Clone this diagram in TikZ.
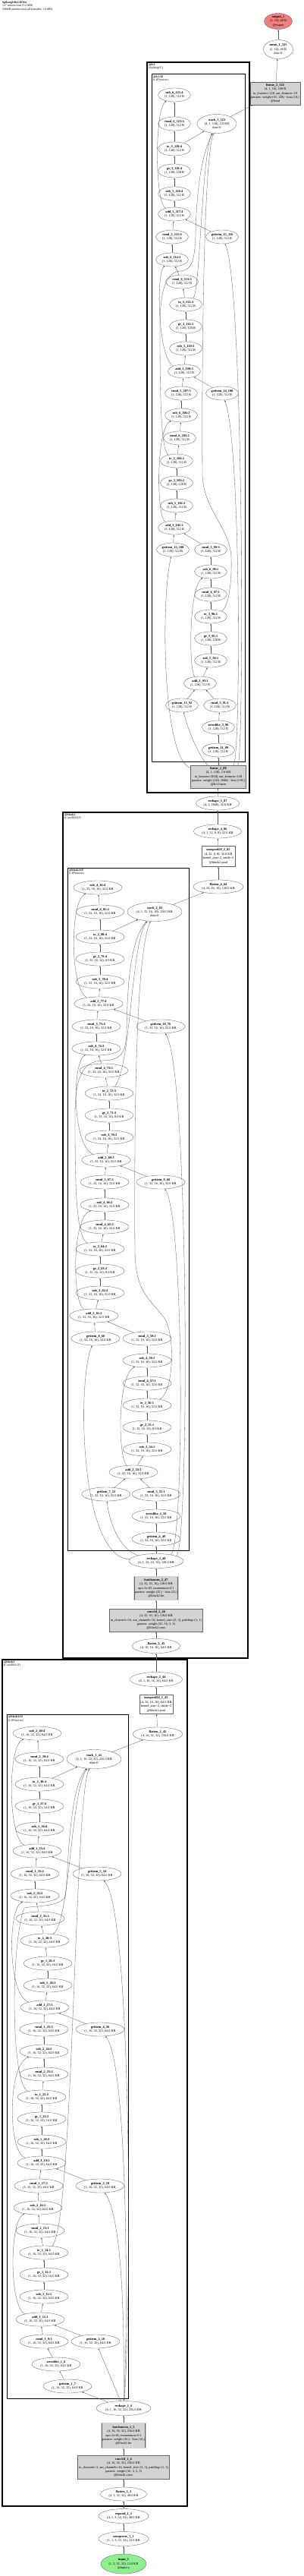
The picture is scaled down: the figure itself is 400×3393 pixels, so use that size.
\documentclass[tikz,border=0pt]{standalone}
\usepackage{fontspec}
\setmainfont{Liberation Serif}
\usetikzlibrary{shapes.geometric,arrows.meta}
\definecolor{boxgray}{RGB}{211,211,211}
\definecolor{ingreen}{RGB}{144,238,144}
\definecolor{outred}{RGB}{240,128,128}
\definecolor{edgecol}{RGB}{85,85,85}
\newcommand{\nodefont}{\fontsize{4.3}{5.4}\selectfont}
\newcommand{\ttlfont}{\fontsize{3.8}{4.6}\selectfont}
\newcommand{\nm}[1]{\textbf{\detokenize{#1}}}
\newcommand{\lif}[5]{\node[#1] (#2) at (#3) {\nm{#4}\\#5};}
\newcommand{\shFc}{(1, 128), 512 B}
\newcommand{\shFcB}{(1, 128), 128 B}
\newcommand{\shBb}{(1, 32, 16, 16), 32.0 KB}
\newcommand{\shBbB}{(1, 32, 16, 16), 8.0 KB}
\newcommand{\shBa}{(1, 16, 32, 32), 64.0 KB}
\newcommand{\shBaB}{(1, 16, 32, 32), 16.0 KB}
\tikzset{
  opn/.style={ellipse, draw=black!60, line width=0.35pt, fill=white, inner xsep=-8pt, inner ysep=0pt,
    minimum width=64pt, minimum height=18pt, align=center, font=\nodefont},
  opsm/.style={opn, minimum width=43pt},
  opwd/.style={opn, minimum width=72pt, minimum height=25pt},
  tbox/.style={rectangle, draw=black!60, line width=0.35pt, fill=boxgray, inner xsep=1.5pt, inner ysep=1pt, align=center, font=\nodefont},
  pbox/.style={tbox, fill=white},
  bnbox/.style={tbox, double=boxgray, double distance=1.2pt},
  cluo/.style={draw=black, line width=1.2pt},
  clui/.style={draw=black, line width=1pt},
  clab/.style={anchor=north west, align=left, inner sep=0pt, font=\ttlfont},
  edg/.style={draw=edgecol, line width=0.3pt, -{Latex[length=2.2pt,width=1.7pt]}},
}
\begin{document}
\begin{tikzpicture}[x=1pt,y=-1pt]
\useasboundingbox (0,0) rectangle (400,3393);
\fill[white] (0,0) rectangle (400,3393);
% title
\node[anchor=north west, align=left, inner sep=0pt, font=\ttlfont] (title) at (3,1.5)
  {\textbf{SpikingJellyLIFNet}\\127 tensors total (5.2 MB)\\268698 params total (all trainable, 1.0 MB)};
% clusters
\draw[cluo] (194,82) rectangle (329,1044);
\draw[clui] (200,98) rectangle (323,1003);
\draw[cluo] (83,1070) rectangle (327,2184);
\draw[clui] (89,1143) rectangle (249,2042);
\draw[cluo] (3,2186) rectangle (247,3301);
\draw[clui] (9,2258) rectangle (169,3159);
\node[clab] (lfc1) at (196,83.5) {\textbf{@fc1}\\(SpikingFC)};
\node[clab] (lfc1lif) at (202,99.5) {\textbf{@fc1.lif}\\(LIFNeuron)};
\node[clab] (lb2) at (85,1071.5) {\textbf{@block2}\\(ConvBNLIF)};
\node[clab] (lb2lif) at (91,1144.5) {\textbf{@block2.lif}\\(LIFNeuron)};
\node[clab] (lb1) at (5,2187.5) {\textbf{@block1}\\(ConvBNLIF)};
\node[clab] (lb1lif) at (11,2259.5) {\textbf{@block1.lif}\\(LIFNeuron)};
% top
\node[opn, fill=outred, minimum width=37pt, minimum height=21pt] (out1) at (367,28) {\nm{output_1}\\(1, 10), 40 B\\@output};
\node[opn, minimum width=39pt, minimum height=25pt] (n125) at (367,65) {\nm{mean_1_125}\\(1, 10), 40 B\\dim=0};
\node[tbox, minimum height=30pt] (n124) at (363,123) {\nm{linear_2_124}\\(4, 1, 10), 160 B\\in\_features=128, out\_features=10\\params: weight (10, 128) · bias (10,)\\@head};
% fc1
\node[opwd, minimum width=52pt] (n123) at (286,163) {\nm{stack_3_123}\\(4, 1, 128), 2.0 KB\\dim=0};
\lif{opsm}{n122}{230,125}{sub_6_122:4}{\shFc}
\lif{opsm}{n121}{230,163}{rmul_6_121:4}{\shFc}
\lif{opsm}{n120}{230,196}{to_3_120:4}{\shFc}
\lif{opsm}{n119}{230,225}{ge_3_119:4}{\shFcB}
\lif{opsm}{n118}{230,255}{sub_5_118:4}{\shFc}
\lif{opsm}{n117}{230,282}{add_3_117:4}{\shFc}
\lif{opsm}{n115}{227,312}{rmul_5_115:4}{\shFc}
\lif{opsm}{n116}{293,312}{getitem_15_116}{\shFc}
\lif{opsm}{n114}{227,342}{sub_6_114:3}{\shFc}
\lif{opsm}{n113}{240,371}{rmul_6_113:3}{\shFc}
\lif{opsm}{n112}{245,401}{to_3_112:3}{\shFc}
\lif{opsm}{n111}{245,430}{ge_3_111:3}{\shFcB}
\lif{opsm}{n110}{245,459}{sub_5_110:3}{\shFc}
\lif{opsm}{n109}{243,489}{add_3_109:3}{\shFc}
\lif{opsm}{n107}{239,518}{rmul_5_107:3}{\shFc}
\lif{opsm}{n108}{293,518}{getitem_14_108}{\shFc}
\lif{opsm}{n106}{239,547}{sub_6_106:2}{\shFc}
\lif{opsm}{n105}{237,577}{rmul_6_105:2}{\shFc}
\lif{opsm}{n104}{233,607}{to_3_104:2}{\shFc}
\lif{opsm}{n103}{233,636}{ge_3_103:2}{\shFcB}
\lif{opsm}{n102}{233,666}{sub_5_102:2}{\shFc}
\lif{opsm}{n101}{230,695}{add_3_101:2}{\shFc}
\lif{opsm}{n99}{278,724}{rmul_5_99:2}{\shFc}
\lif{opsm}{n100}{228,724}{getitem_13_100}{\shFc}
\lif{opsm}{n98}{278,753}{sub_6_98:1}{\shFc}
\lif{opsm}{n97}{278,783}{rmul_6_97:1}{\shFc}
\lif{opsm}{n96}{278,812}{to_3_96:1}{\shFc}
\lif{opsm}{n95}{278,841}{ge_3_95:1}{\shFcB}
\lif{opsm}{n94}{278,870}{sub_5_94:1}{\shFc}
\lif{opsm}{n93}{264,900}{add_3_93:1}{\shFc}
\lif{opsm}{n91}{290,929}{rmul_5_91:1}{\shFc}
\lif{opsm}{n92}{240,929}{getitem_12_92}{\shFc}
\lif{opsm}{n90}{288,958}{zeroslike_3_90}{\shFc}
\lif{opsm}{n89}{288,988}{getitem_11_89}{\shFc}
\node[tbox, minimum height=30pt] (n88) at (288,1023) {\nm{linear_1_88}\\(4, 1, 128), 2.0 KB\\in\_features=2048, out\_features=128\\params: weight (128, 2048) · bias (128,)\\@fc1.linear};
\node[opn, minimum width=57pt] (n87) at (287,1058) {\nm{reshape_5_87}\\(4, 1, 2048), 32.0 KB};
% block2
\node[opn, minimum width=63pt] (n86) at (287,1095) {\nm{reshape_4_86}\\(4, 1, 32, 8, 8), 32.0 KB};
\node[pbox, minimum height=27pt] (n85) at (288,1128) {\nm{maxpool2d_2_85}\\(4, 32, 8, 8), 32.0 KB\\kernel\_size=2, stride=2\\@block2.pool};
\node[opn, minimum width=66pt] (n84) at (288,1168) {\nm{flatten_4_84}\\(4, 32, 16, 16), 128.0 KB};
\node[opwd] (n83) at (204,1201) {\nm{stack_2_83}\\(4, 1, 32, 16, 16), 128.0 KB\\dim=0};
\lif{opn}{n82}{129,1169}{sub_4_82:4}{\shBb}
\lif{opn}{n81}{132,1201}{rmul_4_81:4}{\shBb}
\lif{opn}{n80}{132,1234}{to_2_80:4}{\shBb}
\lif{opn}{n79}{132,1263}{ge_2_79:4}{\shBbB}
\lif{opn}{n78}{132,1293}{sub_3_78:4}{\shBb}
\lif{opn}{n77}{130,1322}{add_2_77:4}{\shBb}
\lif{opn}{n75}{127,1352}{rmul_3_75:4}{\shBb}
\lif{opn}{n76}{212,1352}{getitem_10_76}{\shBb}
\lif{opn}{n74}{127,1381}{sub_4_74:3}{\shBb}
\lif{opn}{n73}{137,1410}{rmul_4_73:3}{\shBb}
\lif{opn}{n72}{144,1440}{to_2_72:3}{\shBb}
\lif{opn}{n71}{144,1469}{ge_2_71:3}{\shBbB}
\lif{opn}{n70}{144,1498}{sub_3_70:3}{\shBb}
\lif{opn}{n69}{140,1528}{add_2_69:3}{\shBb}
\lif{opn}{n67}{138,1557}{rmul_3_67:3}{\shBb}
\lif{opn}{n68}{212,1557}{getitem_9_68}{\shBb}
\lif{opn}{n66}{138,1587}{sub_4_66:2}{\shBb}
\lif{opn}{n65}{138,1616}{rmul_4_65:2}{\shBb}
\lif{opn}{n64}{132,1645}{to_2_64:2}{\shBb}
\lif{opn}{n63}{132,1674}{ge_2_63:2}{\shBbB}
\lif{opn}{n62}{132,1703}{sub_3_62:2}{\shBb}
\lif{opn}{n61}{124,1733}{add_2_61:2}{\shBb}
\lif{opn}{n59}{194,1763}{rmul_3_59:2}{\shBb}
\lif{opn}{n60}{126,1763}{getitem_8_60}{\shBb}
\lif{opn}{n58}{194,1792}{sub_4_58:1}{\shBb}
\lif{opn}{n57}{194,1822}{rmul_4_57:1}{\shBb}
\lif{opn}{n56}{194,1851}{to_2_56:1}{\shBb}
\lif{opn}{n55}{194,1880}{ge_2_55:1}{\shBbB}
\lif{opn}{n54}{194,1909}{sub_3_54:1}{\shBb}
\lif{opn}{n53}{176,1939}{add_2_53:1}{\shBb}
\lif{opn}{n51}{206,1968}{rmul_3_51:1}{\shBb}
\lif{opn}{n52}{140,1968}{getitem_7_52}{\shBb}
\lif{opn}{n50}{206,1997}{zeroslike_2_50}{\shBb}
\lif{opn}{n49}{206,2027}{getitem_6_49}{\shBb}
\node[opn, minimum width=72pt, minimum height=19pt] (n48) at (206,2056) {\nm{reshape_3_48}\\(4, 1, 32, 16, 16), 128.0 KB};
\node[bnbox, minimum height=31pt] (n47) at (206,2092) {\nm{batchnorm_2_47}\\(4, 32, 16, 16), 128.0 KB\\eps=1e-05, momentum=0.1\\params: weight (32,) · bias (32,)\\@block2.bn};
\node[tbox, minimum height=30pt] (n46) at (206,2134) {\nm{conv2d_2_46}\\(4, 32, 16, 16), 128.0 KB\\in\_channels=16, out\_channels=32, kernel\_size=(3, 3), padding=(1, 1)\\params: weight (32, 16, 3, 3)\\@block2.conv};
\node[opn, minimum width=63pt, minimum height=19pt] (n45) at (206,2168) {\nm{flatten_3_45}\\(4, 16, 16, 16), 64.0 KB};
% block1
\node[opn, minimum width=69pt, minimum height=19pt] (n44) at (206,2212) {\nm{reshape_2_44}\\(4, 1, 16, 16, 16), 64.0 KB};
\node[pbox, minimum height=25pt] (n43) at (206,2245) {\nm{maxpool2d_1_43}\\(4, 16, 16, 16), 64.0 KB\\kernel\_size=2, stride=2\\@block1.pool};
\node[opn, minimum width=66pt] (n42) at (208,2284) {\nm{flatten_2_42}\\(4, 16, 32, 32), 256.0 KB};
\node[opwd] (n41) at (124,2317) {\nm{stack_1_41}\\(4, 1, 16, 32, 32), 256.0 KB\\dim=0};
\lif{opn}{n40}{49,2283}{sub_2_40:4}{\shBa}
\lif{opn}{n39}{52,2317}{rmul_2_39:4}{\shBa}
\lif{opn}{n38}{52,2350}{to_1_38:4}{\shBa}
\lif{opn}{n37}{52,2379}{ge_1_37:4}{\shBaB}
\lif{opn}{n36}{52,2409}{sub_1_36:4}{\shBa}
\lif{opn}{n35}{49,2438}{add_1_35:4}{\shBa}
\lif{opn}{n33}{46,2468}{rmul_1_33:4}{\shBa}
\lif{opn}{n34}{128,2468}{getitem_5_34}{\shBa}
\lif{opn}{n32}{46,2497}{sub_2_32:3}{\shBa}
\lif{opn}{n31}{53,2527}{rmul_2_31:3}{\shBa}
\lif{opn}{n30}{59,2556}{to_1_30:3}{\shBa}
\lif{opn}{n29}{63,2586}{ge_1_29:3}{\shBaB}
\lif{opn}{n28}{63,2615}{sub_1_28:3}{\shBa}
\lif{opn}{n27}{59,2644}{add_1_27:3}{\shBa}
\lif{opn}{n25}{58,2673}{rmul_1_25:3}{\shBa}
\lif{opn}{n26}{132,2673}{getitem_4_26}{\shBa}
\lif{opn}{n24}{58,2702}{sub_2_24:2}{\shBa}
\lif{opn}{n23}{58,2732}{rmul_2_23:2}{\shBa}
\lif{opn}{n22}{55,2762}{to_1_22:2}{\shBa}
\lif{opn}{n21}{55,2791}{ge_1_21:2}{\shBaB}
\lif{opn}{n20}{55,2821}{sub_1_20:2}{\shBa}
\lif{opn}{n19}{55,2849}{add_1_19:2}{\shBa}
\lif{opn}{n17}{51,2879}{rmul_1_17:2}{\shBa}
\lif{opn}{n18}{132,2879}{getitem_3_18}{\shBa}
\lif{opn}{n16}{50,2908}{sub_2_16:1}{\shBa}
\lif{opn}{n15}{53,2938}{rmul_2_15:1}{\shBa}
\lif{opn}{n14}{58,2967}{to_1_14:1}{\shBa}
\lif{opn}{n13}{58,2996}{ge_1_13:1}{\shBaB}
\lif{opn}{n12}{58,3025}{sub_1_12:1}{\shBa}
\lif{opn}{n11}{53,3055}{add_1_11:1}{\shBa}
\lif{opn}{n9}{58,3084}{rmul_1_9:1}{\shBa}
\lif{opn}{n10}{126,3084}{getitem_2_10}{\shBa}
\lif{opn}{n8}{74,3114}{zeroslike_1_8}{\shBa}
\lif{opn}{n7}{89,3143}{getitem_1_7}{\shBa}
\node[opn, minimum width=72pt, minimum height=19pt] (n6) at (163,3172) {\nm{reshape_1_6}\\(4, 1, 16, 32, 32), 256.0 KB};
\node[bnbox, minimum height=33pt] (n5) at (163,3208) {\nm{batchnorm_1_5}\\(4, 16, 32, 32), 256.0 KB\\eps=1e-05, momentum=0.1\\params: weight (16,) · bias (16,)\\@block1.bn};
\node[tbox, minimum height=31pt] (n4) at (163,3250) {\nm{conv2d_1_4}\\(4, 16, 32, 32), 256.0 KB\\in\_channels=3, out\_channels=16, kernel\_size=(3, 3), padding=(1, 1)\\params: weight (16, 3, 3, 3)\\@block1.conv};
\node[opn, minimum width=61pt] (n3) at (163,3285) {\nm{flatten_1_3}\\(4, 3, 32, 32), 48.0 KB};
\node[opn, minimum width=66pt, minimum height=19pt] (n2) at (163,3314) {\nm{expand_1_2}\\(4, 1, 3, 32, 32), 48.0 KB};
\node[opn, minimum width=66pt, minimum height=19pt] (n1) at (163,3344) {\nm{unsqueeze_1_1}\\(1, 1, 3, 32, 32), 12.0 KB};
\node[opn, fill=ingreen, minimum width=60pt, minimum height=26pt] (in1) at (163,3377) {\nm{input_1}\\(1, 3, 32, 32), 12.0 KB\\@input.x};
% straight edges
\foreach \a/\b in {in1/n1, n1/n2, n2/n3, n3/n4, n4/n5, n5/n6, n41/n42, n42/n43, n43/n44, n44/n45, n45/n46, n46/n47, n47/n48,
  n83/n84, n84/n85, n85/n86, n86/n87, n87/n88, n123/n124, n124/n125, n125/out1,
  n6/n7, n7/n8, n8/n9, n6/n10, n9/n11, n10/n11, n11/n12, n12/n13, n13/n14, n14/n15, n15/n16, n16/n17,
  n17/n19, n18/n19, n19/n20, n20/n21, n21/n22, n22/n23, n23/n24, n24/n25, n25/n27, n26/n27, n27/n28, n28/n29,
  n29/n30, n30/n31, n31/n32, n32/n33, n33/n35, n34/n35, n35/n36, n36/n37, n37/n38, n38/n39, n39/n40, n38/n41,
  n48/n49, n49/n50, n50/n51, n51/n53, n52/n53, n53/n54, n54/n55, n55/n56, n56/n57, n57/n58, n58/n59, n59/n61,
  n60/n61, n61/n62, n62/n63, n63/n64, n64/n65, n65/n66, n66/n67, n67/n69, n68/n69, n69/n70, n70/n71, n71/n72,
  n72/n73, n73/n74, n74/n75, n75/n77, n76/n77, n77/n78, n78/n79, n79/n80, n80/n81, n81/n82, n80/n83,
  n88/n89, n89/n90, n90/n91, n91/n93, n92/n93, n93/n94, n94/n95, n95/n96, n96/n97, n97/n98, n98/n99, n99/n101,
  n100/n101, n101/n102, n102/n103, n103/n104, n104/n105, n105/n106, n106/n107, n107/n109, n108/n109, n109/n110,
  n110/n111, n111/n112, n112/n113, n113/n114, n114/n115, n115/n117, n116/n117, n117/n118, n118/n119, n119/n120,
  n120/n121, n121/n122, n120/n123}
  \draw[edg] (\a) -- (\b);
% block1 curved edges
\draw[edg] (n6) .. controls (164,3080) and (163,2925) .. (n18);
\draw[edg] (n6) .. controls (169,3060) and (169,2720) .. (n26);
\draw[edg] (n6) .. controls (174,3040) and (174,2515) .. (n34);
\draw[edg] (n11) .. controls (12,3040) and (12,2925) .. (n16);
\draw[edg] (n19) .. controls (10,2835) and (10,2720) .. (n24);
\draw[edg] (n27) .. controls (10,2628) and (10,2515) .. (n32);
\draw[edg] (n35) .. controls (10,2420) and (10,2300) .. (n40);
\draw[edg] (n30) .. controls (93,2530) and (93,2360) .. (n41);
\draw[edg] (n14) .. controls (97,2935) and (98,2370) .. (n41);
\draw[edg] (n22) .. controls (14,2745) and (14,2560) .. (32,2513) .. controls (45,2510) and (80,2512) .. (86,2498) .. controls (90,2480) and (89,2360) .. (n41);
% block2 curved edges
\draw[edg] (n48) .. controls (160,2042) and (145,2010) .. (n52);
\draw[edg] (n48) .. controls (104,2050) and (102,1815) .. (n60);
\draw[edg] (n48) .. controls (243,2040) and (244,1610) .. (n68);
\draw[edg] (n48) .. controls (250,2045) and (250,1410) .. (n76);
\draw[edg] (n53) .. controls (155,1918) and (155,1812) .. (n58);
\draw[edg] (n61) .. controls (95,1715) and (95,1605) .. (n66);
\draw[edg] (n69) .. controls (95,1508) and (95,1400) .. (n74);
\draw[edg] (n77) .. controls (92,1302) and (92,1188) .. (n82);
\draw[edg] (n72) .. controls (173,1405) and (173,1240) .. (n83);
\draw[edg] (n64) .. controls (100,1630) and (99,1560) .. (99,1470) .. controls (99,1420) and (108,1398) .. (135,1397) .. controls (158,1396) and (166,1390) .. (167,1360) .. controls (168,1300) and (171,1240) .. (n83);
\draw[edg] (n56) .. controls (228,1835) and (232,1765) .. (218,1738) .. controls (200,1712) and (179,1705) .. (178,1650) .. controls (177,1500) and (178,1260) .. (n83);
% fc1 curved edges
\draw[edg] (n88) .. controls (262,995) and (248,962) .. (n92);
\draw[edg] (n88) .. controls (214,1000) and (212,790) .. (n100);
\draw[edg] (n88) .. controls (318,1000) and (318,585) .. (n108);
\draw[edg] (n88) .. controls (322,1003) and (322,380) .. (n116);
\draw[edg] (n93) .. controls (249,882) and (249,775) .. (n98);
\draw[edg] (n101) .. controls (206,680) and (206,565) .. (n106);
\draw[edg] (n109) .. controls (208,472) and (206,360) .. (n114);
\draw[edg] (n117) .. controls (204,265) and (204,145) .. (n122);
\draw[edg] (n112) .. controls (264,385) and (266,205) .. (n123);
\draw[edg] (n104) .. controls (212,592) and (211,520) .. (211,430) .. controls (211,380) and (220,358) .. (238,357) .. controls (252,356) and (257,345) .. (258,310) .. controls (259,250) and (266,205) .. (n123);
\draw[edg] (n96) .. controls (302,800) and (306,765) .. (305,735) .. controls (304,695) and (268,672) .. (267,625) .. controls (266,500) and (268,215) .. (n123);
\end{tikzpicture}
\end{document}
